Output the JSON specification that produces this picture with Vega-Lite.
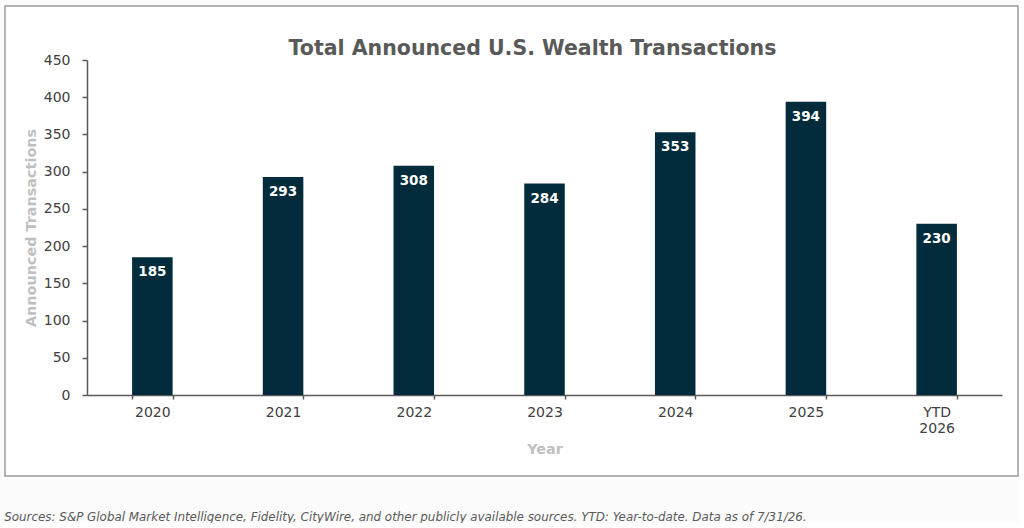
{
  "$schema": "https://vega.github.io/schema/vega-lite/v6.json",
  "background": "#fbfbfb",
  "padding": {"left": 4, "top": 5, "right": 0, "bottom": 0},
  "title": {
    "text": "Sources: S&P Global Market Intelligence, Fidelity, CityWire, and other publicly available sources. YTD: Year-to-date. Data as of 7/31/26.",
    "orient": "bottom",
    "anchor": "start",
    "offset": 35,
    "font": "DejaVu Sans",
    "fontSize": 11.9,
    "fontStyle": "italic",
    "fontWeight": "normal",
    "color": "#595959"
  },
  "vconcat": [
    {
      "width": 1013,
      "height": 470,
      "title": {
        "text": "Total Announced U.S. Wealth Transactions",
        "offset": -53,
        "dx": 21,
        "font": "DejaVu Sans",
        "fontSize": 20.5,
        "fontWeight": "bold",
        "color": "#595959"
      },
      "data": {
        "values": [
          {"year": "2020", "transactions": 185},
          {"year": "2021", "transactions": 293},
          {"year": "2022", "transactions": 308},
          {"year": "2023", "transactions": 284},
          {"year": "2024", "transactions": 353},
          {"year": "2025", "transactions": 394},
          {"year": "YTD 2026", "transactions": 230}
        ]
      },
      "encoding": {
        "x": {
          "field": "year",
          "type": "nominal",
          "sort": null,
          "scale": {"range": [82, 997], "paddingInner": 0.69, "paddingOuter": 0.345},
          "axis": {
            "title": "Year",
            "offset": -81,
            "labelAngle": 0,
            "tickBand": "extent",
            "tickSize": 4,
            "labelPadding": 6,
            "labelLineHeight": 16,
            "labelExpr": "datum.label == 'YTD 2026' ? ['YTD', '2026'] : datum.label",
            "titlePadding": 7
          }
        },
        "y": {
          "field": "transactions",
          "type": "quantitative",
          "scale": {"domain": [0, 450], "range": [389, 54], "nice": false},
          "axis": {
            "title": "Announced Transactions",
            "offset": -82,
            "values": [0, 50, 100, 150, 200, 250, 300, 350, 400, 450],
            "grid": false,
            "tickSize": 5,
            "labelPadding": 12,
            "titlePadding": 5
          }
        }
      },
      "layer": [
        {"mark": {"type": "bar", "color": "#022c3c"}},
        {
          "mark": {
            "type": "text",
            "baseline": "middle",
            "dy": 15,
            "color": "white",
            "font": "DejaVu Sans",
            "fontSize": 13.5,
            "fontWeight": "bold"
          },
          "encoding": {"text": {"field": "transactions", "type": "quantitative"}}
        }
      ]
    }
  ],
  "config": {
    "view": {"stroke": "#9a9a9a", "strokeWidth": 1.5, "fill": "white"},
    "axis": {
      "domainColor": "#595959",
      "domainWidth": 1.5,
      "tickColor": "#595959",
      "tickWidth": 1.5,
      "labelFont": "DejaVu Sans",
      "labelFontSize": 14,
      "labelColor": "#404040",
      "titleFont": "DejaVu Sans",
      "titleFontSize": 14.4,
      "titleFontWeight": "bold",
      "titleColor": "#bfbfbf"
    }
  }
}
